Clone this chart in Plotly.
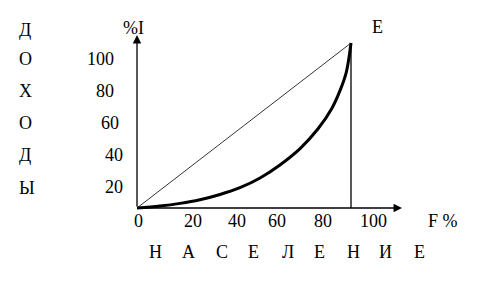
import plotly.graph_objects as go

# ---- data ----
pop_share = [0, 10.7, 20.1, 29.4, 38.8, 48.1, 57.5, 66.8, 76.2, 84.6, 91.1, 94.9, 97.7, 99.1, 100]
inc_share = [0, 1.2, 2.8, 5.0, 8.2, 12.3, 18.2, 26.1, 36.0, 48.0, 60.5, 71.3, 81.8, 91.5, 100]
equality_x = [0, 100]
equality_y = [0, 100]
x_tick_labels = ["0", "20", "40", "60", "80", "100"]
y_tick_labels = ["100", "80", "60", "40", "20"]
left_word = ["Д", "О", "Х", "О", "Д", "Ы"]
bottom_word = ["Н", "А", "С", "Е", "Л", "Е", "Н", "И", "Е"]

W, H = 485, 282
OX, OY = 137, 208          # origin in pixels
SX, SY = 2.14, 1.65        # pixels per data unit
FONT = dict(family="Liberation Serif, Times New Roman, serif", size=18, color="black")

def px2x(p):
    return (p - OX) / SX

def py2y(p):
    return (OY - p) / SY

fig = go.Figure()
fig.add_trace(go.Scatter(x=equality_x, y=equality_y, mode="lines",
                         line=dict(color="black", width=0.8), hoverinfo="skip"))
fig.add_trace(go.Scatter(x=pop_share, y=inc_share, mode="lines",
                         line=dict(color="black", width=3, shape="spline", smoothing=1.0),
                         hoverinfo="skip"))
# vertical line at x=100
fig.add_trace(go.Scatter(x=[equality_x[-1], equality_x[-1]], y=[0, equality_y[-1]], mode="lines",
                         line=dict(color="black", width=1.3), hoverinfo="skip"))

ann = []
# axes with arrows
ann.append(dict(x=px2x(402), y=0, ax=0, ay=0, xref="x", yref="y", axref="x", ayref="y",
                showarrow=True, arrowhead=2, arrowsize=1.3, arrowwidth=1.3, arrowcolor="black", text=""))
ann.append(dict(x=0, y=py2y(35), ax=0, ay=0, xref="x", yref="y", axref="x", ayref="y",
                showarrow=True, arrowhead=2, arrowsize=1.3, arrowwidth=1.3, arrowcolor="black", text=""))

def txt(s, xp, yp, anchor="center"):
    ann.append(dict(text=s, x=xp / W, y=1 - yp / H, xref="paper", yref="paper",
                    xanchor=anchor, yanchor="middle", showarrow=False, font=FONT))

x_lab_px = [138, 193, 237, 277, 323, 373]
for s, p in zip(x_tick_labels, x_lab_px):
    txt(s, p, 221)
txt("F %", 443, 221)

y_lab_right = [116, 116, 121, 125, 125]
y_lab_py = [59, 91, 123, 155, 187]
for s, r, p in zip(y_tick_labels, y_lab_right, y_lab_py):
    txt(s, r, p, anchor="right")

left_py = [30, 59, 91, 123, 155, 188]
for s, p in zip(left_word, left_py):
    txt(s, 17, p, anchor="left")

bottom_px = [155, 188, 222, 253, 288, 319, 353, 385, 419]
for s, p in zip(bottom_word, bottom_px):
    txt(s, p, 252)

txt("%I", 133, 28)
txt("E", 377, 27)

fig.update_layout(
    width=W, height=H, margin=dict(l=0, r=0, t=0, b=0),
    paper_bgcolor="white", plot_bgcolor="white", showlegend=False,
    xaxis=dict(range=[px2x(0), px2x(W)], visible=False, fixedrange=True),
    yaxis=dict(range=[py2y(H), py2y(0)], visible=False, fixedrange=True),
    annotations=ann,
)
fig.write_html("out.html", config=dict(displayModeBar=False))
